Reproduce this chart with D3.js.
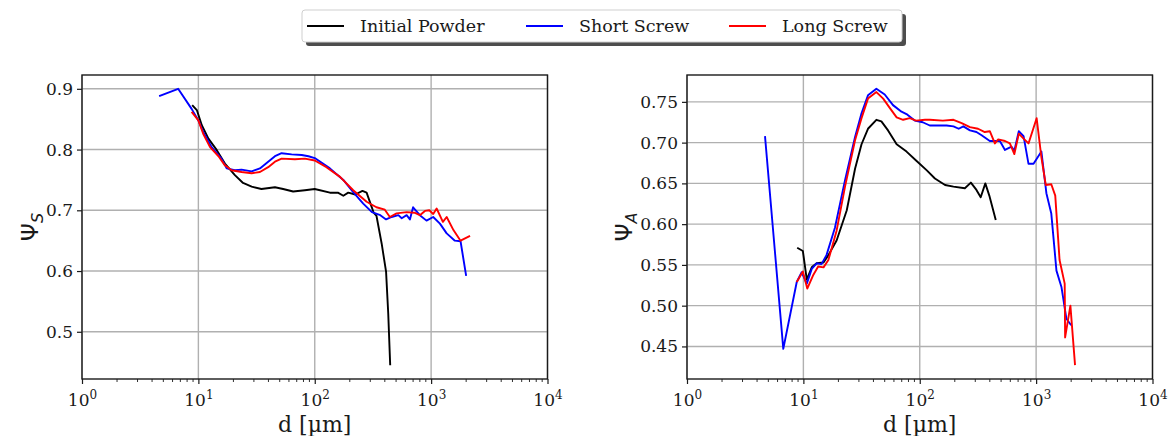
<!DOCTYPE html>
<html><head><meta charset="utf-8">
<script src="https://cdn.jsdelivr.net/npm/d3@7"></script>
<style>body{margin:0;background:#fff} svg{display:block}</style>
</head><body><svg id="c" width="1173" height="436"></svg>
<script>
// Shape descriptors versus particle size d: sphericity Ψ_S (left) and aspect ratio Ψ_A (right)
const seriesNames = ["Initial Powder", "Short Screw", "Long Screw"];
const seriesColors = ["#000000", "#0000ff", "#ff0000"];
const xTickValues = [1, 10, 100, 1000, 10000];
const sphTickValues = [0.5, 0.6, 0.7, 0.8, 0.9];
const arTickValues = [0.45, 0.50, 0.55, 0.60, 0.65, 0.70, 0.75];

// Ψ_S, [d in µm, value]
const sphInitial = [[8.85,0.873],[9.7,0.865],[10.7,0.84],[12.2,0.818],[14.4,0.799],[16.9,0.777],[20.6,0.758],[24.2,0.745],[28.7,0.739],[34.8,0.735],[45.5,0.738],[53.5,0.735],[65.2,0.731],[82.3,0.733],[100,0.735],[135,0.729],[158,0.729],[176,0.724],[194,0.729],[223,0.726],[257,0.732],[279,0.729],[305,0.708],[321,0.696],[339,0.691],[376,0.645],[410,0.599],[428,0.530],[445,0.445]];
const sphShort = [[4.6,0.888],[6.7,0.900],[8.75,0.867],[10,0.848],[11,0.829],[13,0.804],[15.8,0.785],[17.5,0.769],[20.6,0.766],[23.5,0.767],[28.7,0.764],[33.8,0.769],[39.8,0.780],[45.5,0.789],[51.9,0.794],[63.3,0.792],[77.3,0.791],[88.3,0.789],[100,0.786],[135,0.769],[176,0.750],[214,0.730],[261,0.711],[310,0.697],[366,0.692],[410,0.685],[458,0.689],[523,0.692],[559,0.687],[616,0.692],[657,0.685],[700,0.705],[800,0.692],[913,0.683],[1042,0.689],[1190,0.678],[1360,0.662],[1600,0.650],[1790,0.649],[2000,0.592]];
const sphLong = [[8.75,0.862],[10,0.848],[11,0.826],[12.6,0.804],[14.9,0.789],[16.9,0.774],[19.3,0.766],[23.5,0.763],[28.7,0.761],[33.8,0.763],[39.8,0.771],[45.5,0.780],[51.9,0.785],[67.5,0.784],[82.3,0.785],[100,0.782],[126,0.771],[165,0.755],[214,0.733],[279,0.714],[339,0.705],[400,0.701],[442,0.689],[505,0.695],[616,0.697],[718,0.696],[800,0.692],[885,0.699],[964,0.700],[1042,0.694],[1115,0.703],[1262,0.681],[1360,0.689],[1560,0.667],[1790,0.650],[2160,0.658]];

// Ψ_A, [d in µm, value]
const arInitial = [[8.85,0.571],[9.9,0.567],[10.7,0.532],[11.8,0.547],[13.0,0.552],[14.9,0.553],[16.4,0.562],[19.3,0.580],[23.6,0.617],[27.8,0.668],[31.6,0.698],[35.9,0.717],[42.4,0.728],[46.8,0.726],[53.4,0.715],[63.3,0.698],[77,0.689],[93,0.678],[115,0.666],[135,0.656],[165,0.648],[195,0.646],[244,0.644],[275,0.651],[307,0.642],[334,0.633],[366,0.650],[396,0.635],[450,0.605]];
const arShort = [[4.68,0.708],[6.72,0.447],[8.77,0.529],[9.67,0.541],[10.7,0.527],[11.8,0.545],[13.0,0.552],[14.3,0.551],[15.8,0.562],[18.7,0.596],[22.8,0.654],[27.8,0.707],[31.6,0.736],[35.9,0.758],[42.4,0.766],[50,0.759],[58.9,0.746],[69.7,0.738],[76.9,0.735],[90.5,0.727],[106,0.725],[122,0.721],[170,0.721],[195,0.720],[216,0.717],[237,0.720],[270,0.715],[307,0.713],[340,0.709],[400,0.702],[488,0.702],[540,0.691],[615,0.695],[650,0.690],[710,0.714],[780,0.708],[860,0.674],[950,0.674],[1110,0.689],[1225,0.638],[1350,0.613],[1495,0.543],[1650,0.523],[1820,0.484],[2000,0.476]];
const arLong = [[8.77,0.529],[9.9,0.542],[10.8,0.521],[12.2,0.538],[13.4,0.548],[14.9,0.547],[16.4,0.556],[19.3,0.592],[22.8,0.646],[27.8,0.703],[31.6,0.730],[35.9,0.754],[42.4,0.762],[48.5,0.754],[55.6,0.742],[63.3,0.731],[72,0.728],[82,0.730],[93,0.727],[111,0.728],[122,0.728],[158,0.727],[195,0.728],[229,0.724],[270,0.719],[317,0.717],[362,0.713],[400,0.714],[442,0.699],[472,0.704],[540,0.702],[595,0.699],[650,0.686],[710,0.711],[780,0.705],[860,0.699],[1010,0.730],[1110,0.682],[1210,0.648],[1350,0.649],[1460,0.635],[1590,0.556],[1760,0.527],[1775,0.461],[1970,0.500],[2160,0.427]];

const svg = d3.select("#c");
const serif = "'DejaVu Serif', serif";
const sans = "'DejaVu Sans', sans-serif";
const ink = "#1a1a1a";

function paddedDomain(seriesList) {
  const vals = seriesList.flat().map(p => p[1]);
  const lo = d3.min(vals), hi = d3.max(vals), m = (hi - lo) * 0.05;
  return [lo - m, hi + m];
}

function drawPanel(cfg) {
  const g = svg.append("g");
  const x = d3.scaleLog().domain([1, 10000]).range([cfg.left, cfg.right]);
  const y = d3.scaleLinear().domain(paddedDomain(cfg.series)).range([cfg.bottom, cfg.top]);

  // grid
  g.append("g").selectAll("line").data(xTickValues).join("line")
    .attr("x1", d => x(d)).attr("x2", d => x(d)).attr("y1", cfg.top).attr("y2", cfg.bottom)
    .attr("stroke", "#b0b0b0").attr("stroke-width", 1.4);
  g.append("g").selectAll("line").data(cfg.yTicks).join("line")
    .attr("x1", cfg.left).attr("x2", cfg.right).attr("y1", d => y(d)).attr("y2", d => y(d))
    .attr("stroke", "#b0b0b0").attr("stroke-width", 1.4);

  // data lines
  const clipId = "clip" + cfg.id;
  svg.append("clipPath").attr("id", clipId).append("rect")
    .attr("x", cfg.left).attr("y", cfg.top).attr("width", cfg.right - cfg.left).attr("height", cfg.bottom - cfg.top);
  const line = d3.line().x(p => x(p[0])).y(p => y(p[1]));
  cfg.series.forEach((s, i) => {
    g.append("path").datum(s).attr("d", line).attr("fill", "none")
      .attr("stroke", seriesColors[i]).attr("stroke-width", 1.9)
      .attr("stroke-linejoin", "round").attr("clip-path", `url(#${clipId})`);
  });

  // x axis (log) with minor ticks
  const xAxis = d3.axisBottom(x).tickValues(xTickValues).tickFormat("").tickSize(5).tickSizeOuter(0);
  const gx = g.append("g").attr("transform", `translate(0,${cfg.bottom})`).call(xAxis);
  gx.select(".domain").remove();
  gx.selectAll(".tick line").attr("stroke", ink).attr("stroke-width", 1.2);
  const minors = [];
  for (let e = 0; e < 4; e++) for (let k = 2; k <= 9; k++) minors.push(k * Math.pow(10, e));
  g.append("g").selectAll("line").data(minors).join("line")
    .attr("x1", d => x(d)).attr("x2", d => x(d)).attr("y1", cfg.bottom).attr("y2", cfg.bottom + 3)
    .attr("stroke", ink).attr("stroke-width", 0.9);
  gx.selectAll(".tick").each(function(d) {
    const t = d3.select(this).append("text").attr("y", 27).attr("fill", ink)
      .attr("text-anchor", "middle").style("font-family", serif).style("font-size", "17px");
    t.append("tspan").text("10");
    t.append("tspan").attr("dy", -7).style("font-size", "12px").text(Math.round(Math.log10(d)));
  });

  // y axis
  const yAxis = d3.axisLeft(y).tickValues(cfg.yTicks).tickFormat(d3.format(cfg.fmt)).tickSize(5).tickSizeOuter(0).tickPadding(4);
  const gy = g.append("g").attr("transform", `translate(${cfg.left},0)`).call(yAxis);
  gy.select(".domain").remove();
  gy.selectAll(".tick line").attr("stroke", ink).attr("stroke-width", 1.2);
  gy.selectAll(".tick text").attr("fill", ink).style("font-family", serif).style("font-size", "17px");

  // frame
  g.append("rect").attr("x", cfg.left).attr("y", cfg.top)
    .attr("width", cfg.right - cfg.left).attr("height", cfg.bottom - cfg.top)
    .attr("fill", "none").attr("stroke", ink).attr("stroke-width", 1.4);

  // axis labels
  g.append("text").attr("x", (cfg.left + cfg.right) / 2).attr("y", 432)
    .attr("text-anchor", "middle").attr("fill", ink)
    .style("font-family", serif).style("font-size", "22px").text("d [µm]");
  const yl = g.append("text").attr("transform", `translate(${cfg.ylabelX},${(cfg.top + cfg.bottom) / 2}) rotate(-90)`)
    .attr("text-anchor", "middle").attr("fill", ink).style("font-family", sans).style("font-size", "23px");
  yl.append("tspan").text("Ψ");
  yl.append("tspan").attr("dy", 5).style("font-size", "16px").style("font-style", "italic").text(cfg.sub);
}

drawPanel({ id: "S", left: 82, right: 547.5, top: 75, bottom: 379,
  series: [sphInitial, sphShort, sphLong], yTicks: sphTickValues, fmt: ".1f", ylabelX: 38, sub: "S" });
drawPanel({ id: "A", left: 687, right: 1152.5, top: 75, bottom: 379,
  series: [arInitial, arShort, arLong], yTicks: arTickValues, fmt: ".2f", ylabelX: 632, sub: "A" });

// legend with drop shadow
const lg = svg.append("g");
const lx = 302, ly = 10, lw = 600, lh = 32;
lg.append("rect").attr("x", lx + 4).attr("y", ly + 4).attr("width", lw).attr("height", lh).attr("rx", 3)
  .attr("fill", "#4d4d4d");
lg.append("rect").attr("x", lx).attr("y", ly).attr("width", lw).attr("height", lh).attr("rx", 3)
  .attr("fill", "#fff").attr("stroke", "#cfcfcf").attr("stroke-width", 1);
const itemX = [307, 526, 729];
seriesNames.forEach((name, i) => {
  lg.append("line").attr("x1", itemX[i]).attr("x2", itemX[i] + 37).attr("y1", ly + lh / 2).attr("y2", ly + lh / 2)
    .attr("stroke", seriesColors[i]).attr("stroke-width", 1.9);
  lg.append("text").attr("x", itemX[i] + 53).attr("y", ly + lh / 2 + 6).attr("fill", ink)
    .style("font-family", serif).style("font-size", "17.5px").text(name);
});
</script>
</body></html>
